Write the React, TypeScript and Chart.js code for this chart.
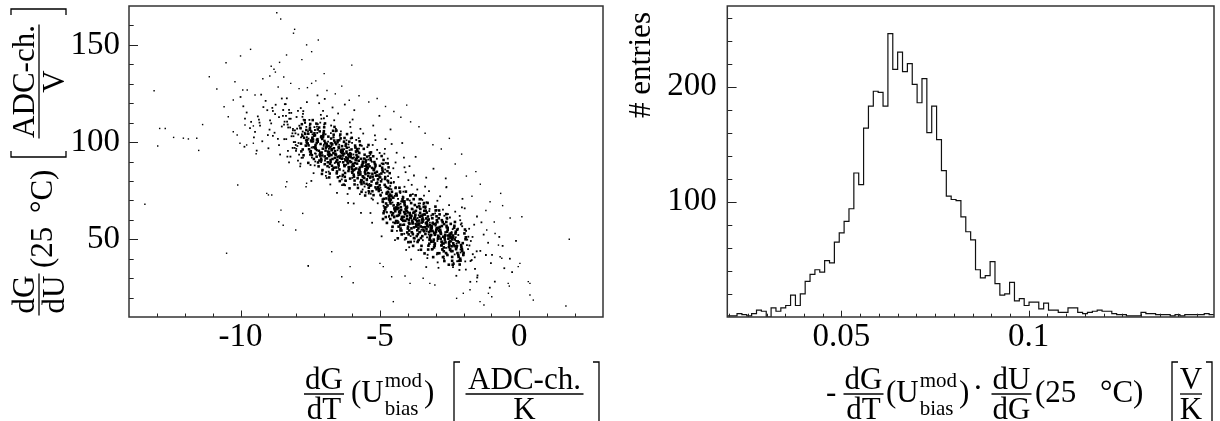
import React, { useEffect, useRef } from 'react';
import { Chart, registerables } from 'chart.js';

Chart.register(...registerables);

const SERIF = '"Liberation Serif", "Times New Roman", Times, serif';
const TITLE_SIZE = 31;
const SUB_SIZE = 21;

// ---------------- Left panel: scatter (x = dG/dT, y = dG/dU) ----------------
const upperBand: number[] = [
  -7.72,102.2,-7.83,99.2,-7.64,106.2,-7.77,96.2,-7.68,104.2,-7.80,109.2,-7.61,101.2,-7.74,93.2,-7.85,107.2,-7.66,98.2,-7.78,103.2,-7.70,111.2,-7.63,100.2,-7.82,95.2,
  -7.45,100.3,-7.38,97.3,-7.57,104.3,-7.48,94.3,-7.42,102.3,-7.51,107.3,-7.59,99.3,-7.37,91.3,-7.46,105.3,-7.54,96.3,-7.40,101.3,-7.50,109.3,-7.56,98.3,-7.44,93.3,-7.36,103.3,-7.52,106.3,-7.48,95.3,-7.41,111.3,-7.57,89.3,-7.47,100.8,
  -7.31,98.5,-7.19,95.5,-7.11,102.5,-7.27,92.5,-7.23,100.5,-7.16,105.5,-7.32,97.5,-7.22,89.5,-7.33,103.5,-7.14,94.5,-7.27,99.5,-7.18,107.5,-7.30,96.5,-7.11,91.5,-7.24,101.5,-7.35,104.5,-7.16,93.5,-7.28,109.5,-7.20,87.5,-7.13,99.0,-7.32,97.0,-7.23,106.5,-7.17,90.5,-7.26,101.0,
  -7.05,96.6,-6.86,93.6,-6.99,100.6,-7.10,90.6,-6.91,98.6,-7.03,103.6,-6.95,95.6,-6.88,87.6,-7.07,101.6,-6.98,92.6,-6.92,97.6,-7.01,105.6,-7.09,94.6,-6.87,89.6,-6.96,99.6,-7.04,102.6,-6.90,91.6,-7.00,107.6,-7.06,85.6,-6.94,97.1,-6.86,95.1,-7.02,104.6,-6.98,88.6,-6.91,99.1,-7.07,93.1,-6.97,109.6,-7.08,83.6,-6.89,98.1,
  -6.84,94.8,-6.62,91.8,-6.71,98.8,-6.79,88.8,-6.65,96.8,-6.75,101.8,-6.81,93.8,-6.69,85.8,-6.61,99.8,-6.77,90.8,-6.73,95.8,-6.66,103.8,-6.82,92.8,-6.72,87.8,-6.83,97.8,-6.64,100.8,-6.77,89.8,-6.68,105.8,-6.80,83.8,-6.61,95.3,-6.74,93.3,-6.85,102.8,-6.66,86.8,-6.78,97.3,-6.70,91.3,-6.63,107.8,-6.82,81.8,-6.73,96.3,-6.67,94.3,-6.76,99.3,
  -6.41,92.9,-6.57,89.9,-6.47,96.9,-6.58,86.9,-6.39,94.9,-6.52,99.9,-6.43,91.9,-6.55,83.9,-6.36,97.9,-6.49,88.9,-6.60,93.9,-6.41,101.9,-6.53,90.9,-6.45,85.9,-6.38,95.9,-6.57,98.9,-6.48,87.9,-6.42,103.9,-6.51,81.9,-6.59,93.4,-6.37,91.4,-6.46,100.9,-6.54,84.9,-6.40,95.4,-6.50,89.4,-6.56,105.9,-6.44,79.9,-6.36,94.4,-6.52,92.4,-6.48,97.4,
  -6.16,91.1,-6.28,88.1,-6.20,95.1,-6.13,85.1,-6.32,93.1,-6.23,98.1,-6.17,90.1,-6.26,82.1,-6.34,96.1,-6.12,87.1,-6.21,92.1,-6.29,100.1,-6.15,89.1,-6.25,84.1,-6.31,94.1,-6.19,97.1,-6.11,86.1,-6.27,102.1,-6.23,80.1,-6.16,91.6,-6.32,89.6,-6.22,99.1,-6.33,83.1,-6.14,93.6,-6.27,87.6,-6.18,104.1,-6.30,78.1,-6.11,92.6,-6.24,90.6,-6.35,95.6,
  -5.90,89.2,-6.00,86.2,-6.06,93.2,-5.94,83.2,-5.86,91.2,-6.02,96.2,-5.98,88.2,-5.91,80.2,-6.07,94.2,-5.97,85.2,-6.08,90.2,-5.89,98.2,-6.02,87.2,-5.93,82.2,-6.05,92.2,-5.86,95.2,-5.99,84.2,-6.10,100.2,-5.91,78.2,-6.03,89.7,-5.95,87.7,-5.88,97.2,-6.07,81.2,-5.98,91.7,-5.92,85.7,-6.01,102.2,-6.09,76.2,-5.87,90.7,-5.96,88.7,-6.04,93.7,
  -5.64,87.4,-5.77,84.4,-5.68,91.4,-5.80,81.4,-5.61,89.4,-5.74,94.4,-5.85,86.4,-5.66,78.4,-5.78,92.4,-5.70,83.4,-5.63,88.4,-5.82,96.4,-5.73,85.4,-5.67,80.4,-5.76,90.4,-5.84,93.4,-5.62,82.4,-5.71,98.4,-5.79,76.4,-5.65,87.9,-5.75,85.9,-5.81,95.4,-5.69,79.4,-5.61,89.9,-5.77,83.9,-5.73,100.4,-5.66,74.4,-5.82,88.9,-5.72,86.9,-5.83,91.9,
  -5.48,85.5,-5.42,82.5,-5.51,89.5,-5.59,79.5,-5.37,87.5,-5.46,92.5,-5.54,84.5,-5.40,76.5,-5.50,90.5,-5.56,81.5,-5.44,86.5,-5.36,94.5,-5.52,83.5,-5.48,78.5,-5.41,88.5,-5.57,91.5,-5.47,80.5,-5.58,96.5,-5.39,74.5,-5.52,86.0,-5.43,84.0,-5.55,93.5,-5.36,77.5,-5.49,88.0,-5.60,82.0,-5.41,98.5,-5.53,72.5,-5.45,87.0,
  -5.27,83.7,-5.23,80.7,-5.16,87.7,-5.32,77.7,-5.22,85.7,-5.33,90.7,-5.14,82.7,-5.27,74.7,-5.18,88.7,-5.30,79.7,-5.11,84.7,-5.24,92.7,-5.35,81.7,-5.16,76.7,-5.28,86.7,-5.20,89.7,-5.13,78.7,-5.32,94.7,-5.23,72.7,-5.17,84.2,-5.26,82.2,-5.34,91.7,-5.12,75.7,-5.21,86.2,
  -4.99,81.8,-5.10,78.8,-4.91,85.8,-5.03,75.8,-4.95,83.8,-4.88,88.8,-5.07,80.8,-4.98,72.8,-4.92,86.8,-5.01,77.8,-5.09,82.8,-4.87,90.8,-4.96,79.8,-5.04,74.8,-4.90,84.8,-5.00,87.8,-5.06,76.8,-4.94,92.8,-4.86,70.8,-5.02,82.3,
  -4.71,80.0,-4.79,77.0,-4.65,84.0,-4.75,74.0,-4.81,82.0,-4.69,87.0,-4.61,79.0,-4.77,71.0,-4.73,85.0,-4.66,76.0,-4.82,81.0,-4.72,89.0,-4.83,78.0,-4.64,73.0,
];

const lowerBand: number[] = [
  -4.73,67.4,-4.85,64.4,-4.66,71.4,-4.79,61.4,-4.90,69.4,-4.71,74.4,-4.83,66.4,-4.75,58.4,-4.68,72.4,-4.87,63.4,-4.78,68.4,-4.72,76.4,-4.81,65.4,-4.89,60.4,-4.67,70.4,-4.76,73.4,
  -4.47,65.4,-4.56,62.4,-4.64,69.4,-4.42,59.4,-4.51,67.4,-4.59,72.4,-4.45,64.4,-4.55,56.4,-4.61,70.4,-4.49,61.4,-4.41,66.4,-4.57,74.4,-4.53,63.4,-4.46,58.4,-4.62,68.4,-4.52,71.4,-4.63,60.4,-4.44,76.4,-4.57,54.4,-4.48,65.9,-4.60,63.9,-4.41,73.4,
  -4.28,63.5,-4.21,60.5,-4.37,67.5,-4.27,57.5,-4.38,65.5,-4.19,70.5,-4.32,62.5,-4.23,54.5,-4.35,68.5,-4.16,59.5,-4.29,64.5,-4.40,72.5,-4.21,61.5,-4.33,56.5,-4.25,66.5,-4.18,69.5,-4.37,58.5,-4.28,74.5,-4.22,52.5,-4.31,64.0,-4.39,62.0,-4.17,71.5,-4.26,55.5,-4.34,66.0,-4.20,60.0,-4.30,76.5,-4.36,50.5,-4.24,65.0,
  -4.15,61.5,-3.96,58.5,-4.08,65.5,-4.00,55.5,-3.93,63.5,-4.12,68.5,-4.03,60.5,-3.97,52.5,-4.06,66.5,-4.14,57.5,-3.92,62.5,-4.01,70.5,-4.09,59.5,-3.95,54.5,-4.05,64.5,-4.11,67.5,-3.99,56.5,-3.91,72.5,-4.07,50.5,-4.03,62.0,-3.96,60.0,-4.12,69.5,-4.02,53.5,-4.13,64.0,-3.94,58.0,-4.07,74.5,-3.98,48.5,-4.10,63.0,-3.91,61.0,-4.04,66.0,
  -3.84,59.6,-3.70,56.6,-3.80,63.6,-3.86,53.6,-3.74,61.6,-3.66,66.6,-3.82,58.6,-3.78,50.6,-3.71,64.6,-3.87,55.6,-3.77,60.6,-3.88,68.6,-3.69,57.6,-3.82,52.6,-3.73,62.6,-3.85,65.6,-3.66,54.6,-3.79,70.6,-3.90,48.6,-3.71,60.1,-3.83,58.1,-3.75,67.6,-3.68,51.6,-3.87,62.1,-3.78,56.1,-3.72,72.6,-3.81,46.6,-3.89,61.1,-3.67,59.1,-3.76,64.1,
  -3.63,57.6,-3.44,54.6,-3.57,61.6,-3.48,51.6,-3.60,59.6,-3.41,64.6,-3.54,56.6,-3.65,48.6,-3.46,62.6,-3.58,53.6,-3.50,58.6,-3.43,66.6,-3.62,55.6,-3.53,50.6,-3.47,60.6,-3.56,63.6,-3.64,52.6,-3.42,68.6,-3.51,46.6,-3.59,58.1,-3.45,56.1,-3.55,65.6,-3.61,49.6,-3.49,60.1,-3.41,54.1,-3.57,70.6,-3.53,44.6,-3.46,59.1,-3.62,57.1,-3.52,62.1,
  -3.18,55.7,-3.37,52.7,-3.28,59.7,-3.22,49.7,-3.31,57.7,-3.39,62.7,-3.17,54.7,-3.26,46.7,-3.34,60.7,-3.20,51.7,-3.30,56.7,-3.36,64.7,-3.24,53.7,-3.16,48.7,-3.32,58.7,-3.28,61.7,-3.21,50.7,-3.37,66.7,-3.27,44.7,-3.38,56.2,-3.19,54.2,-3.32,63.7,-3.23,47.7,-3.35,58.2,-3.16,52.2,-3.29,68.7,-3.40,42.7,-3.21,57.2,-3.33,55.2,-3.25,60.2,
  -2.99,53.8,-2.91,50.8,-3.07,57.8,-3.03,47.8,-2.96,55.8,-3.12,60.8,-3.02,52.8,-3.13,44.8,-2.94,58.8,-3.07,49.8,-2.98,54.8,-3.10,62.8,-2.91,51.8,-3.04,46.8,-3.15,56.8,-2.96,59.8,-3.08,48.8,-3.00,64.8,-2.93,42.8,-3.12,54.3,-3.03,52.3,-2.97,61.8,-3.06,45.8,-3.14,56.3,-2.92,50.3,-3.01,66.8,-3.09,40.8,-2.95,55.3,-3.05,53.3,-3.11,58.3,
  -2.66,51.8,-2.79,48.8,-2.90,55.8,-2.71,45.8,-2.83,53.8,-2.75,58.8,-2.68,50.8,-2.87,42.8,-2.78,56.8,-2.72,47.8,-2.81,52.8,-2.89,60.8,-2.67,49.8,-2.76,44.8,-2.84,54.8,-2.70,57.8,-2.80,46.8,-2.86,62.8,-2.74,40.8,-2.66,52.3,-2.82,50.3,-2.78,59.8,-2.71,43.8,-2.87,54.3,-2.77,48.3,-2.88,64.8,-2.69,38.8,-2.82,53.3,-2.73,51.3,-2.85,56.3,
  -2.42,49.9,-2.51,46.9,-2.59,53.9,-2.45,43.9,-2.55,51.9,-2.61,56.9,-2.49,48.9,-2.41,40.9,-2.57,54.9,-2.53,45.9,-2.46,50.9,-2.62,58.9,-2.52,47.9,-2.63,42.9,-2.44,52.9,-2.57,55.9,-2.48,44.9,-2.60,60.9,-2.41,38.9,-2.54,50.4,-2.65,48.4,-2.46,57.9,-2.58,41.9,-2.50,52.4,-2.43,46.4,-2.62,62.9,-2.53,36.9,-2.47,51.4,
  -2.37,47.9,-2.27,44.9,-2.38,51.9,-2.19,41.9,-2.32,49.9,-2.23,54.9,-2.35,46.9,-2.16,38.9,-2.29,52.9,-2.40,43.9,-2.21,48.9,-2.33,56.9,-2.25,45.9,-2.18,40.9,-2.37,50.9,-2.28,53.9,-2.22,42.9,-2.31,58.9,-2.39,36.9,-2.17,48.4,-2.26,46.4,-2.34,55.9,
  -2.08,46.0,-2.00,43.0,-1.93,50.0,-2.12,40.0,-2.03,48.0,-1.97,53.0,-2.06,45.0,-2.14,37.0,-1.92,51.0,-2.01,42.0,-2.09,47.0,-1.95,55.0,-2.05,44.0,-2.11,39.0,
];

const nearHalo: number[] = [
  -8.05,106,-8.43,101.5,-8.25,112,-8.13,97,-8.31,109,-8.47,116.5,-8.03,104.5,-8.21,92.5,-8.37,113.5,-8.09,100,-8.29,107.5,-8.41,119.5,-8.17,103,-8.01,95.5,-8.33,110.5,-8.25,115,
  -7.83,102.4,-7.65,97.9,-7.89,108.4,-7.51,93.4,-7.77,105.4,-7.99,112.9,-7.61,100.9,-7.85,88.9,-7.69,109.9,-7.55,96.4,-7.93,103.9,-7.75,115.9,-7.63,99.4,-7.81,91.9,-7.97,106.9,-7.53,111.4,
  -7.01,98.7,-7.33,94.2,-7.25,104.7,-7.11,89.7,-7.43,101.7,-7.23,109.2,-7.45,97.2,-7.07,85.2,-7.33,106.2,-7.15,92.7,-7.39,100.2,-7.01,112.2,-7.27,95.7,-7.49,88.2,-7.11,103.2,-7.35,107.7,
  -6.81,95,-6.97,90.5,-6.53,101,-6.71,86,-6.87,98,-6.59,105.5,-6.79,93.5,-6.91,81.5,-6.67,102.5,-6.51,89,-6.83,96.5,-6.75,108.5,-6.61,92,-6.93,84.5,-6.73,99.5,-6.95,104,
  -6.27,91.3,-6.49,86.8,-6.11,97.3,-6.35,82.3,-6.19,94.3,-6.05,101.8,-6.43,89.8,-6.25,77.8,-6.13,98.8,-6.31,85.3,-6.47,92.8,-6.03,104.8,-6.21,88.3,-6.37,80.8,-6.09,95.8,-6.29,100.3,
  -5.93,87.6,-5.73,83.1,-5.95,93.6,-5.57,78.6,-5.83,90.6,-5.65,98.1,-5.89,86.1,-5.51,74.1,-5.77,95.1,-5.99,81.6,-5.61,89.1,-5.85,101.1,-5.69,84.6,-5.55,77.1,-5.93,92.1,-5.75,96.6,
  -5.37,83.9,-5.09,79.4,-5.29,89.9,-5.41,74.9,-5.17,86.9,-5.01,94.4,-5.33,82.4,-5.25,70.4,-5.11,91.4,-5.43,77.9,-5.23,85.4,-5.45,97.4,-5.07,80.9,-5.33,73.4,-5.15,88.4,-5.39,92.9,
  -4.69,74,-4.55,68.9,-4.93,80.8,-4.75,63.8,-4.63,77.4,-4.81,85.9,-4.97,72.3,-4.53,58.7,-4.71,82.5,-4.87,67.2,-4.59,75.7,-4.79,89.3,-4.91,70.6,-4.67,62.1,-4.51,79.1,-4.83,84.2,
  -4.07,63.3,-4.33,58.8,-4.15,69.3,-4.39,54.3,-4.01,66.3,-4.27,73.8,-4.49,61.8,-4.11,49.8,-4.35,70.8,-4.19,57.3,-4.05,64.8,-4.43,76.8,-4.25,60.3,-4.13,52.8,-4.31,67.8,-4.47,72.3,
  -3.67,59.4,-3.51,54.9,-3.83,65.4,-3.75,50.4,-3.61,62.4,-3.93,69.9,-3.73,57.9,-3.95,45.9,-3.57,66.9,-3.83,53.4,-3.65,60.9,-3.89,72.9,-3.51,56.4,-3.77,48.9,-3.99,63.9,-3.61,68.4,
  -3.13,55.5,-3.31,51,-3.47,61.5,-3.03,46.5,-3.21,58.5,-3.37,66,-3.09,54,-3.29,42,-3.41,63,-3.17,49.5,-3.01,57,-3.33,69,-3.25,52.5,-3.11,45,-3.43,60,-3.23,64.5,
  -2.51,51.6,-2.77,47.1,-2.99,57.6,-2.61,42.6,-2.85,54.6,-2.69,62.1,-2.55,50.1,-2.93,38.1,-2.75,59.1,-2.63,45.6,-2.81,53.1,-2.97,65.1,-2.53,48.6,-2.71,41.1,-2.87,56.1,-2.59,60.6,
  -2.25,47.7,-2.11,43.2,-2.43,53.7,-2.23,38.7,-2.45,50.7,-2.07,58.2,-2.33,46.2,-2.15,34.2,-2.39,55.2,-2.01,41.7,-2.27,49.2,-2.49,61.2,-2.11,44.7,-2.35,37.2,-2.19,52.2,-2.05,56.7,
  -1.53,43.8,-1.71,39.3,-1.87,49.8,-1.59,34.8,-1.79,46.8,-1.91,54.3,-1.67,42.3,-1.51,30.3,-1.83,51.3,-1.75,38.8,
];

const diffuseHalo: number[] = [
  -9.84,112,-9.66,107.2,-9.90,118.4,-9.52,102.4,-9.78,115.2,-10.00,123.2,-9.62,110.4,-9.86,97.6,
  -9.32,110,-9.48,105.2,-9.04,116.4,-9.22,100.4,-9.38,113.2,-9.10,121.2,-9.30,108.4,-9.42,95.6,-9.18,118.0,-9.02,103.6,-9.34,111.6,-9.26,124.4,
  -8.52,108,-8.84,103.2,-8.76,114.4,-8.62,98.4,-8.94,111.2,-8.74,119.2,-8.96,106.4,-8.58,93.6,-8.84,116.0,-8.66,101.6,-8.90,109.6,-8.52,122.4,-8.78,104.8,-9.00,96.8,-8.62,112.8,-8.86,117.6,
  -8.12,106,-8.36,101.5,-8.20,112,-8.06,97,-8.44,109,-8.26,116.5,-8.14,104.5,-8.32,92.5,-8.48,113.5,-8.04,100,-8.22,107.5,-8.38,119.5,-8.10,103,-8.30,95.5,-8.42,110.5,-8.18,115,-8.02,98.5,-8.34,122.5,-8.26,89.5,-8.12,106.8,
  -7.80,104,-7.92,99.5,-7.68,110,-7.52,95,-7.84,107,-7.76,114.5,-7.62,102.5,-7.94,90.5,-7.74,111.5,-7.96,98,-7.58,105.5,-7.84,117.5,-7.66,101,-7.90,93.5,-7.52,108.5,-7.78,113,-8.00,96.5,-7.62,120.5,-7.86,87.5,-7.70,104.8,-7.56,101.8,-7.94,116,-7.76,92,-7.64,107.8,
  -7.44,102,-7.26,96,-7.14,110,-7.32,90,-7.48,106,-7.04,116,-7.22,100,-7.38,84,-7.10,112,-7.30,94,-7.42,104,-7.18,120,-7.02,98,-7.34,88,-7.26,108,-7.12,114,-7.44,92,-7.24,124,-7.46,80,-7.08,103,
  -6.74,98,-6.96,91.4,-6.58,106.8,-6.84,84.8,-6.66,102.4,-6.90,113.4,-6.52,95.8,-6.78,78.2,-7.00,109,-6.62,89.2,-6.86,100.2,-6.70,117.8,-6.56,93.6,-6.94,82.6,-6.76,104.6,-6.64,111.2,-6.82,87,-6.98,122.2,-6.54,73.8,-6.72,99.1,
  -6.26,94,-6.12,87.1,-6.44,103.2,-6.24,80.2,-6.46,98.6,-6.08,110.1,-6.34,91.7,-6.16,73.3,-6.40,105.5,-6.02,84.8,-6.28,96.3,-6.50,114.7,-6.12,89.4,-6.36,77.9,-6.20,100.9,-6.06,107.8,-6.44,82.5,-6.26,119.3,-6.14,68.7,-6.32,95.2,
  -5.52,90,-5.78,82.8,-6.00,99.6,-5.62,75.6,-5.86,94.8,-5.70,106.8,-5.56,87.6,-5.94,68.4,-5.76,102,-5.64,80.4,-5.82,92.4,-5.98,111.6,-5.54,85.2,-5.72,73.2,-5.88,97.2,-5.60,104.4,-5.80,78,-5.92,116.4,-5.68,63.6,-5.52,91.2,
  -5.22,86,-5.38,78.5,-5.10,96,-5.30,71,-5.42,91,-5.18,103.5,-5.02,83.5,-5.34,63.5,-5.26,98.5,-5.12,76,-5.44,88.5,-5.24,108.5,-5.46,81,-5.08,68.5,-5.34,93.5,-5.16,101,-5.40,73.5,-5.02,113.5,-5.28,58.5,-5.50,87.3,
  -4.70,79,-4.56,71.5,-4.94,89,-4.76,64,-4.64,84,-4.82,96.5,-4.98,76.5,-4.54,56.5,-4.72,91.5,-4.88,69,-4.60,81.5,-4.80,101.5,-4.92,74,-4.68,61.5,-4.52,86.5,-4.84,94,-4.76,66.5,-4.62,106.5,-4.94,51.5,-4.74,80.3,-4.96,75.3,-4.58,99,
  -4.18,72,-4.02,64.5,-4.34,82,-4.26,57,-4.12,77,-4.44,89.5,-4.24,69.5,-4.46,49.5,-4.08,84.5,-4.34,62,-4.16,74.5,-4.40,94.5,-4.02,67,-4.28,54.5,-4.50,79.5,-4.12,87,-4.36,59.5,-4.20,99.5,-4.06,44.5,-4.44,73.3,-4.26,68.3,-4.14,92,
  -3.58,66,-3.84,58.8,-3.66,75.6,-3.90,51.6,-3.52,70.8,-3.78,82.8,-4.00,63.6,-3.62,44.4,-3.86,78,-3.70,56.4,-3.56,68.4,-3.94,87.6,-3.76,61.2,-3.64,49.2,-3.82,73.2,-3.98,80.4,-3.54,54,-3.72,92.4,-3.88,39.6,-3.60,67.2,
  -3.14,61,-3.32,54.1,-3.48,70.2,-3.04,47.2,-3.22,65.6,-3.38,77.1,-3.10,58.7,-3.30,40.3,-3.42,72.5,-3.18,51.8,-3.02,63.3,-3.34,81.7,-3.26,56.4,-3.12,44.9,-3.44,67.9,-3.24,74.8,-3.46,49.5,-3.08,86.3,-3.34,35.7,-3.16,62.2,
  -2.62,56,-2.94,49.1,-2.74,65.2,-2.96,42.2,-2.58,60.6,-2.84,72.1,-2.66,53.7,-2.90,35.3,-2.52,67.5,-2.78,46.8,-3.00,58.3,-2.62,76.7,-2.86,51.4,-2.70,39.9,-2.56,62.9,-2.94,69.8,-2.76,44.5,-2.64,81.3,
  -2.28,51,-2.50,44.4,-2.12,59.8,-2.36,37.8,-2.20,55.4,-2.06,66.4,-2.44,48.8,-2.26,31.2,-2.14,62,-2.32,42.2,-2.48,53.2,-2.04,70.8,-2.22,46.6,-2.38,35.6,-2.10,57.6,-2.30,64.2,
  -1.88,47,-1.60,40.7,-1.80,55.4,-1.92,34.4,-1.68,51.2,-1.52,61.7,-1.84,44.9,-1.76,28.1,-1.62,57.5,-1.94,38.6,-1.74,49.1,-1.96,65.9,
  -1.40,44,-1.02,37.7,-1.28,52.4,-1.50,31.4,-1.12,48.2,-1.36,58.7,-1.20,41.9,-1.06,25.1,
  -0.98,42,-0.54,35.1,-0.72,51.2,-0.88,28.2,-0.60,46.6,
  -0.34,40,-0.26,33.1,-0.12,49.2,
];

const strayPoints: number[] = [
  -13.1,126.4,-12.97,98,-12.9,107,-12.7,107,-12.4,102.4,-12.05,102,-11.87,101.6,-11.57,102,-11.5,95.7,-13.43,68,-11.36,109,-11.12,133.6,-10.85,127.3,-10.52,140.8,-10.5,42.8,-10.1,77.9,-10.0,144.3,-9.64,147.7,-8.7,166.5,-8.56,163.3,-8.06,158,-8.1,156,-7.57,36.4,-8.02,54.8,-8.63,59,-8.47,57.2,-8.55,65,-7.77,63.3,-8.34,79.6,-8.38,77,-7.63,78.8,-7.65,77,-9.0,72.8,-8.88,72.8,
  -7.21,152.5,-7.45,146.5,-7.63,150,-6.01,139.6,-6.37,128.8,-7.45,130.2,-7.6,128,-4.04,119,-3.38,104.5,-2.51,101.9,-2.07,93.8,-1.56,84.8,-2.61,77,-0.67,73.6,-0.6,67.3,-1.05,69.3,-0.33,60.9,0.09,61.6,-0.87,53,-1.17,54.8,-0.75,47,-0.69,41,-0.63,40.2,1.79,50,-0.04,35.9,0.02,37.6,-0.4,27.3,-0.36,25.9,0.32,28.2,0.38,27.3,0.5,18.7,0.38,21.3,1.67,15.7,-1.41,17.9,-1.27,16.2,-1.11,22.2,-0.99,20.4,-2.25,19.6,-2.01,22.2,-1.77,24,-1.53,28.2,-4.52,17.9,-3.03,26.5,-3.45,29.9,-3.21,27.3,-4.1,31.1,-3.92,27.3,-6.37,30.7,-5.96,27.6,-6.07,35.9,-7.57,36.2,-6.73,43.6,-5,37.6,-4.88,35.9,-4.58,30.7,
  -10.2,131,-9.92,126.8,-9.76,126.8,-9.48,124.2,-10.26,121.6,-10.59,118.2,-10.44,113,-10.26,105.3,-10.12,103.6,-10.02,99.4,-9.78,98.5,-9.54,99.4,-9.84,108.8,-9.54,108.3,-9.44,94,-9.06,73.6,
  -8.9,139,-8.8,137.5,-8.75,136,-8.6,141,-8.95,134,-8.45,133.5,-8.2,130.2,-7.9,127.5,-7.3,131.5,-6.9,126.5,-6.6,124.8,-8.65,128.3,-9.2,132.6,-7.0,135.2,-7.8,142.4,-8.35,144.8,
  -6.1,121.5,-5.75,123.8,-5.4,120.6,-5.1,122.4,-4.8,118.3,-4.5,115.7,-4.25,112.8,-3.9,110.4,-3.6,107.9,-3.1,98.6,-2.8,96.4,-2.3,88.7,-1.9,82.5,-1.4,78.3,-1.7,72.1,-1.2,64.8,-0.9,58.9,
];

const leftXTickValues = [-13, -12, -11, -10, -9, -8, -7, -6, -5, -4, -3, -2, -1, 0, 1, 2];
const leftXMajor = [-10, -5, 0];
const leftYTickValues = [20, 30, 40, 50, 60, 70, 80, 90, 100, 110, 120, 130, 140, 150, 160];
const leftYMajor = [50, 100, 150];

// ---------------- Right panel: histogram ----------------
const histXStart = 0.0195;
const histBinWidth = 0.0013;
const histCounts = [
  1, 1, 3, 2, 1, 3, 6, 5, 0, 8,
  5, 8, 10, 19, 10, 20, 31, 37, 41, 39,
  49, 47, 65, 73, 83, 94, 125, 115, 164, 183,
  196, 195, 183, 246, 215, 230, 213, 220, 202, 186,
  207, 160, 183, 154, 127, 105, 102, 101, 87, 74,
  67, 41, 34, 36, 48, 29, 19, 20, 30, 14,
  16, 10, 13, 13, 7, 12, 6, 6, 4, 4,
  8, 8, 4, 3, 4, 5, 6, 5, 5, 3,
  2, 2, 1, 1, 1, 4, 3, 3, 2, 2,
  2, 1, 2, 1, 2, 2, 2, 2, 3, 2,
];
const rightXTickValues = [0.02, 0.025, 0.03, 0.035, 0.04, 0.045, 0.05, 0.055, 0.06, 0.065, 0.07, 0.075, 0.08, 0.085, 0.09, 0.095, 0.1, 0.105, 0.11, 0.115, 0.12, 0.125, 0.13, 0.135, 0.14, 0.145];
const rightXMajor = [0.05, 0.1];
const rightYTickValues = [20, 40, 60, 80, 100, 120, 140, 160, 180, 200, 220, 240, 260];
const rightYMajor = [100, 200];

// ---------------- helpers ----------------
function pairs(arr: number[]) {
  const out: { x: number; y: number }[] = [];
  for (let i = 0; i + 1 < arr.length; i += 2) out.push({ x: arr[i], y: arr[i + 1] });
  return out;
}
const isIn = (v: number, list: number[]) => list.some((m) => Math.abs(m - v) < 1e-9);

function setFont(ctx: CanvasRenderingContext2D, size: number) {
  ctx.font = `${size}px ${SERIF}`;
}
function txt(ctx: CanvasRenderingContext2D, s: string, x: number, y: number, size = TITLE_SIZE, align: CanvasTextAlign = 'left') {
  setFont(ctx, size);
  ctx.textAlign = align;
  ctx.textBaseline = 'alphabetic';
  ctx.fillText(s, x, y);
}
function hline(ctx: CanvasRenderingContext2D, x1: number, x2: number, y: number) {
  ctx.beginPath();
  ctx.moveTo(x1, y);
  ctx.lineTo(x2, y);
  ctx.stroke();
}
function fraction(ctx: CanvasRenderingContext2D, num: string, den: string, cx: number, bar: number, halfW: number) {
  txt(ctx, num, cx, bar - 5, TITLE_SIZE, 'center');
  txt(ctx, den, cx, bar + 25, TITLE_SIZE, 'center');
  hline(ctx, cx - halfW, cx + halfW, bar);
}
function bracket(ctx: CanvasRenderingContext2D, x: number, y1: number, y2: number, dir: number) {
  ctx.beginPath();
  ctx.moveTo(x + dir * 6, y1);
  ctx.lineTo(x, y1);
  ctx.lineTo(x, y2);
  ctx.lineTo(x + dir * 6, y2);
  ctx.stroke();
}
function modBias(ctx: CanvasRenderingContext2D, x: number, base: number) {
  txt(ctx, '(U', x, base);
  setFont(ctx, TITLE_SIZE);
  const sx = x + ctx.measureText('(U').width + 1;
  txt(ctx, 'mod', sx, base - 15, SUB_SIZE);
  txt(ctx, 'bias', sx, base + 13, SUB_SIZE);
  setFont(ctx, SUB_SIZE);
  const w = Math.max(ctx.measureText('mod').width, ctx.measureText('bias').width);
  txt(ctx, ')', sx + w + 2, base);
}

function frameTicksPlugin(xMajor: number[], yMajor: number[], xLen: [number, number], yLen: [number, number]) {
  return {
    id: 'frameTicks',
    afterDatasetsDraw(chart: any) {
      const { ctx, chartArea: a } = chart;
      const xs = chart.scales.x;
      const ys = chart.scales.y;
      ctx.save();
      ctx.strokeStyle = '#222';
      ctx.lineWidth = 1;
      ctx.beginPath();
      for (const t of xs.ticks) {
        const px = Math.round(xs.getPixelForValue(t.value)) + 0.5;
        const len = isIn(t.value, xMajor) ? xLen[0] : xLen[1];
        ctx.moveTo(px, a.bottom);
        ctx.lineTo(px, a.bottom - len);
      }
      for (const t of ys.ticks) {
        const py = Math.round(ys.getPixelForValue(t.value)) + 0.5;
        const len = isIn(t.value, yMajor) ? yLen[0] : yLen[1];
        ctx.moveTo(a.left, py);
        ctx.lineTo(a.left + len, py);
      }
      ctx.stroke();
      ctx.lineWidth = 1.5;
      ctx.strokeStyle = '#333';
      ctx.strokeRect(a.left, a.top, a.right - a.left, a.bottom - a.top);
      ctx.restore();
    },
  };
}

const tickFont = { family: SERIF, size: 33, lineHeight: 1 };

function axisCommon(min: number, max: number, values: number[], major: number[], pad: number, fitSize: number, horizontal: boolean) {
  return {
    type: 'linear' as const,
    min,
    max,
    offset: false,
    grid: { display: false, drawTicks: false },
    border: { display: false },
    afterBuildTicks: (scale: any) => {
      scale.ticks = values.map((v) => ({ value: v }));
    },
    afterFit: (scale: any) => {
      if (horizontal) scale.height = fitSize;
      else scale.width = fitSize;
      scale.paddingTop = 0;
      scale.paddingBottom = 0;
      scale.paddingLeft = 0;
      scale.paddingRight = 0;
    },
    ticks: {
      autoSkip: false,
      maxRotation: 0,
      minRotation: 0,
      padding: pad,
      color: '#000',
      font: tickFont,
      callback: (v: number) => (isIn(v, major) ? String(major.find((m) => Math.abs(m - v) < 1e-9)) : ''),
    },
  };
}

function drawLeftTitles(ctx: CanvasRenderingContext2D) {
  ctx.save();
  ctx.fillStyle = '#000';
  ctx.strokeStyle = '#000';
  ctx.lineWidth = 1.3;
  // x title
  fraction(ctx, 'dG', 'dT', 324, 394, 20);
  modBias(ctx, 351, 402);
  bracket(ctx, 454, 362, 430, 1);
  fraction(ctx, 'ADC-ch.', 'K', 524.5, 394, 59);
  bracket(ctx, 599, 362, 430, -1);
  // y title (rotated)
  ctx.rotate(-Math.PI / 2);
  fraction(ctx, 'dG', 'dU', -294.5, 39, 21);
  txt(ctx, '(25', -268, 52);
  txt(ctx, '°C)', -213, 52);
  bracket(ctx, -157, 11, 66, 1);
  fraction(ctx, 'ADC-ch.', 'V', -81.5, 39, 57);
  bracket(ctx, -9, 11, 66, -1);
  ctx.restore();
}

function drawRightTitles(ctx: CanvasRenderingContext2D) {
  const o = 610;
  ctx.save();
  ctx.fillStyle = '#000';
  ctx.strokeStyle = '#000';
  ctx.lineWidth = 1.3;
  txt(ctx, '-', 826 - o, 402);
  fraction(ctx, 'dG', 'dT', 863.5 - o, 394, 20);
  modBias(ctx, 886 - o, 402);
  txt(ctx, '·', 978 - o, 398, TITLE_SIZE, 'center');
  fraction(ctx, 'dU', 'dG', 1011.5 - o, 394, 20);
  txt(ctx, '(25', 1035 - o, 402);
  txt(ctx, '°C)', 1100 - o, 402);
  bracket(ctx, 1172 - o, 362, 430, 1);
  fraction(ctx, 'V', 'K', 1191 - o, 394, 11);
  bracket(ctx, 1212 - o, 362, 430, -1);
  ctx.rotate(-Math.PI / 2);
  txt(ctx, '# entries', -65, 40, TITLE_SIZE, 'center');
  ctx.restore();
}

export default function App() {
  const leftRef = useRef<HTMLCanvasElement>(null);
  const rightRef = useRef<HTMLCanvasElement>(null);

  useEffect(() => {
    const dot = (data: number[], r: number) => ({
      data: pairs(data),
      pointStyle: 'rect',
      pointRadius: r,
      pointHoverRadius: r,
      backgroundColor: '#000',
      borderWidth: 0,
    });
    const left = new Chart(leftRef.current as HTMLCanvasElement, {
      type: 'scatter',
      data: {
        datasets: [
          dot(upperBand, 1.8),
          dot(lowerBand, 1.85),
          dot(nearHalo, 1.3),
          dot(diffuseHalo, 1.25),
          dot(strayPoints, 1.0),
        ],
      },
      options: {
        animation: false,
        responsive: false,
        devicePixelRatio: 1,
        events: [],
        layout: { autoPadding: false, padding: { top: 6, right: 7, bottom: 0, left: 0 } },
        plugins: { legend: { display: false }, tooltip: { enabled: false } },
        scales: {
          x: axisCommon(-14, 3, leftXTickValues, leftXMajor, 3.5, 104, true) as any,
          y: axisCommon(10, 170, leftYTickValues, leftYMajor, 9, 129, false) as any,
        },
      },
      plugins: [
        frameTicksPlugin(leftXMajor, leftYMajor, [6.5, 3.5], [9, 4.7]),
        { id: 'leftTitles', afterDraw: (c: any) => drawLeftTitles(c.ctx) },
      ],
    } as any);

    const histPoints = histCounts.map((c, i) => ({ x: histXStart + i * histBinWidth, y: c }));
    histPoints.push({ x: histXStart + histCounts.length * histBinWidth, y: histCounts[histCounts.length - 1] });

    const right = new Chart(rightRef.current as HTMLCanvasElement, {
      type: 'line',
      data: {
        datasets: [
          {
            data: histPoints,
            stepped: 'before',
            borderColor: '#111',
            borderWidth: 1.2,
            pointRadius: 0,
            fill: false,
            tension: 0,
          },
        ],
      },
      options: {
        animation: false,
        responsive: false,
        devicePixelRatio: 1,
        events: [],
        layout: { autoPadding: false, padding: { top: 6, right: 6, bottom: 0, left: 0 } },
        plugins: { legend: { display: false }, tooltip: { enabled: false } },
        scales: {
          x: axisCommon(0.0195, 0.1495, rightXTickValues, rightXMajor, 3.5, 104, true) as any,
          y: axisCommon(0, 270, rightYTickValues, rightYMajor, 10.6, 117.3, false) as any,
        },
      },
      plugins: [
        frameTicksPlugin(rightXMajor, rightYMajor, [6.3, 3.3], [9.3, 5]),
        { id: 'rightTitles', afterDraw: (c: any) => drawRightTitles(c.ctx) },
      ],
    } as any);

    return () => {
      left.destroy();
      right.destroy();
    };
  }, []);

  return (
    <div style={{ position: 'absolute', left: 0, top: 0, width: 1220, height: 421, background: '#fff', overflow: 'hidden' }}>
      <canvas ref={leftRef} width={610} height={421} style={{ position: 'absolute', left: 0, top: 0, width: 610, height: 421 }} />
      <canvas ref={rightRef} width={610} height={421} style={{ position: 'absolute', left: 610, top: 0, width: 610, height: 421 }} />
    </div>
  );
}
